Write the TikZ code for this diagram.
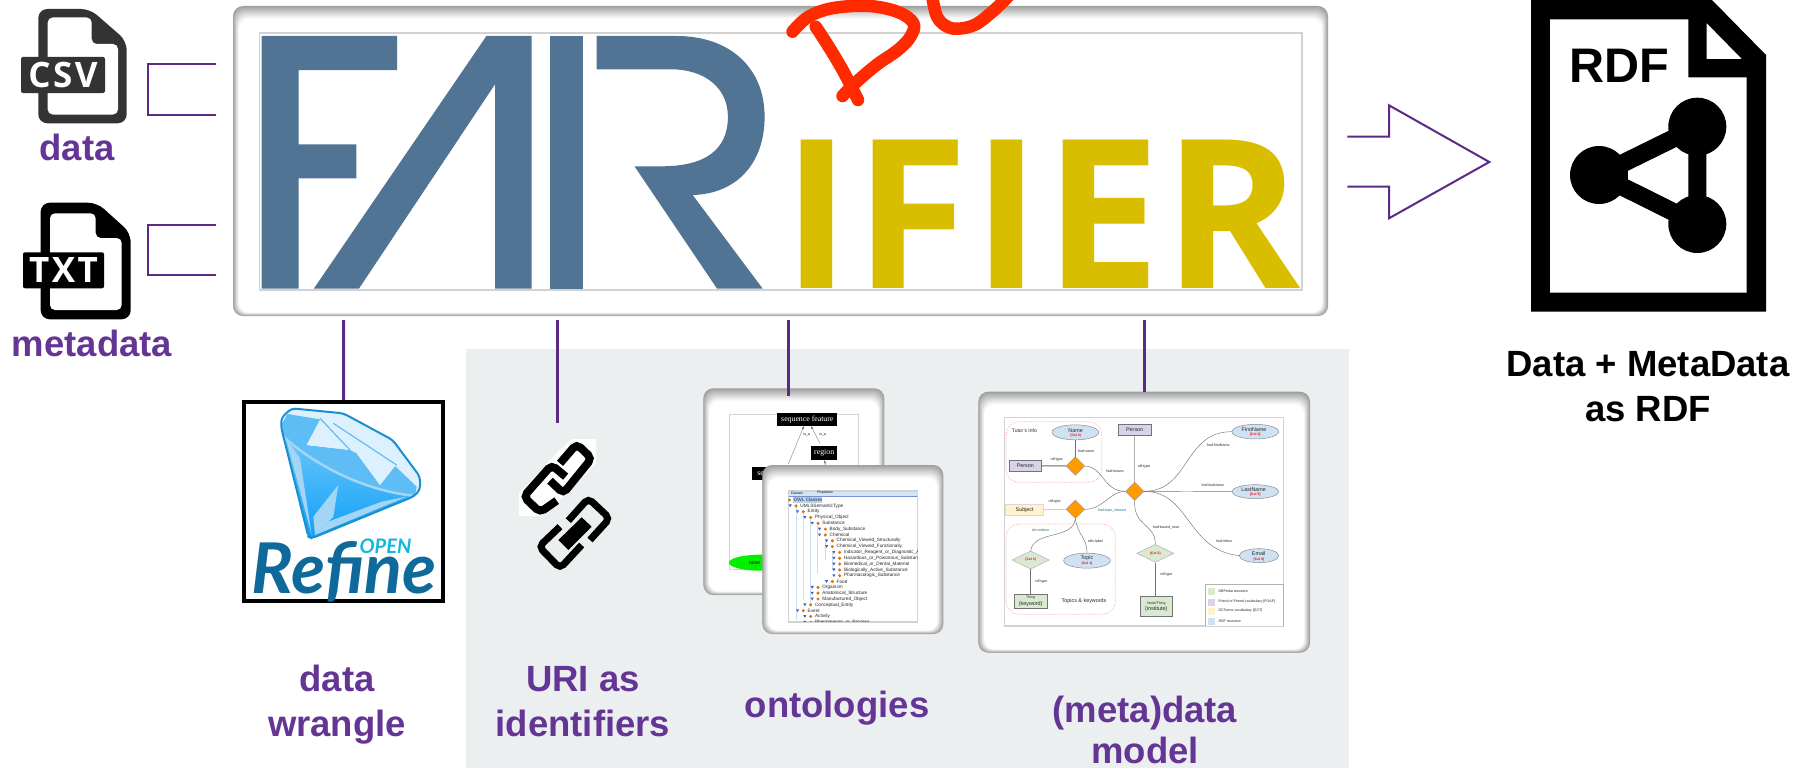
\documentclass[tikz,border=0pt]{standalone}
\usepackage{fontspec}
\usetikzlibrary{shapes.geometric,arrows.meta}
\setmainfont{Liberation Sans}
\newfontfamily\ossfont[LetterSpace=1.5]{Open Sans}
\newfontfamily\ossspaced[LetterSpace=7]{Open Sans}
\newfontfamily\latofont{Lato}
\newfontfamily\serifsmall{Liberation Serif}
\newcommand{\fsz}[1]{\fontsize{#1}{#1}\selectfont}
\definecolor{lblpurple}{HTML}{643594}
\definecolor{linepurple}{HTML}{5A2A86}
\definecolor{fairblue}{HTML}{517394}
\definecolor{fairyellow}{HTML}{D9BE00}
\definecolor{panelgrey}{HTML}{ECEFF0}
\definecolor{csvgrey}{HTML}{333333}
\definecolor{scrawlred}{HTML}{FF2A00}
\definecolor{framegrey}{HTML}{D2D2D2}
\definecolor{gemedge}{HTML}{1A8FD0}
\definecolor{gemtop}{HTML}{5FBDF6}
\definecolor{gemlow}{HTML}{0FA0F8}
\definecolor{gemlowb}{HTML}{6CC6F8}
\definecolor{gemlight}{HTML}{DCF1FD}
\definecolor{gempale}{HTML}{A3D6F4}
\definecolor{refineblue}{HTML}{0F6A9B}
\definecolor{opencyan}{HTML}{10B8DE}
\definecolor{erorange}{HTML}{FF9900}
\definecolor{ergreen}{HTML}{D9EAD3}
\definecolor{erpurple}{HTML}{D9D2E9}
\definecolor{eryellow}{HTML}{FFF2CC}
\definecolor{erblue}{HTML}{CFE2F3}
\definecolor{erpink}{HTML}{F6A8B0}
\definecolor{erteal}{HTML}{1F6F80}
\definecolor{treeblue}{HTML}{3C5FC8}
\definecolor{treeorange}{HTML}{D9770A}
\definecolor{treehl}{HTML}{B5D5EE}
\definecolor{treeline}{HTML}{C9DFF0}
\newcommand{\shadowcard}[4]{%
  \foreach \i in {0,...,16}{%
    \pgfmathsetmacro{\k}{38*(1-\i/16)^1.1}%
    \fill[black!\k!white,rounded corners=10pt]
      ({#1+\i*0.38},{#2+\i*0.8}) rectangle ({#3-\i*0.38},{#4-\i*0.22});
  }%
}
\tikzset{
  lbl/.style={font=\bfseries\fontsize{36.5}{45}\selectfont,text=lblpurple,align=center,anchor=base,inner sep=0},
  blacklbl/.style={font=\bfseries\fontsize{36.5}{45}\selectfont,text=black,align=center,anchor=base,inner sep=0},
  plink/.style={draw=linepurple,line width=3pt},
  pbrack/.style={draw=linepurple,line width=2.4pt},
  pframe/.style={draw=framegrey,line width=1.6pt},
  scrawl/.style={draw=scrawlred,line width=12.5pt,line cap=round,line join=round},
  chain/.style={draw=black,line width=8pt,rounded corners=5pt,line cap=butt},
  erl/.style={font=\fsz{3.6},text=black!85,inner sep=0},
  ert/.style={font=\fsz{3.6},text=erteal,inner sep=0},
  erm/.style={font=\fsz{5.4},text=black!85,inner sep=0},
  err/.style={font=\bfseries\fsz{3.4},text=red,inner sep=0},
  erell/.style={ellipse,draw=black!45,line width=.5pt,fill=erblue,minimum width=46.7pt,minimum height=15pt,inner sep=0},
  errect/.style={rectangle,draw=black!55,line width=.6pt,inner sep=0},
  erdia/.style={diamond,draw=black!40,line width=.4pt,fill=erorange,minimum width=18.6pt,minimum height=18.6pt,inner sep=0},
  ergd/.style={diamond,draw=black!35,line width=.4pt,fill=ergreen,minimum width=37pt,minimum height=18pt,inner sep=0},
  erc/.style={draw=black!55,line width=.45pt},
  erh/.style={draw=black!60,line width=1pt},
  erg/.style={draw=black!30,line width=.5pt},
  erdash/.style={draw=erpink,line width=.7pt,densely dotted,rounded corners=13pt},
  tree/.style={font=\fsz{4.7},text=black!85,inner sep=0,anchor=west},
  blackbox/.style={rectangle,fill=black,text=white,font=\serifsmall\fsz{7.8},inner sep=0},
  seqarrow/.style={draw=black!55,line width=.35pt,-{Latex[length=3pt,width=2.4pt]}},
}
\begin{document}
\begin{tikzpicture}[x=1pt,y=-1pt]
\useasboundingbox (0,0) rectangle (1798,768);
\fill[white] (0,0) rectangle (1798,768);
% grey panel
\fill[panelgrey] (466,349) rectangle (1349,768);

% main card
\shadowcard{233}{6}{1328}{316}
\node[name=main,rectangle,pframe,minimum width=1042.5pt,minimum height=257pt,inner sep=0] at (780.75,161.5) {};
\fill[fairblue] (261.7,36) -- (397.2,36) -- (397.2,70) -- (298.5,70) -- (298.5,144.3) -- (356.3,144.3) -- (356.3,178.3) -- (298.5,178.3) -- (298.5,288.7) -- (261.7,288.7) -- cycle;
\fill[fairblue] (486.4,36) -- (531.5,36) -- (531.5,288.7) -- (495.2,288.7) -- (495.2,84) -- (358.9,288.7) -- (313.8,288.7) -- cycle;
\fill[fairblue] (549.5,36) rectangle (582.8,288.7);
\fill[fairblue] (596.6,36) -- (676.6,36) .. controls (730,36) and (764.6,68) .. (764.6,116.7)
  .. controls (764.6,165) and (735,194) .. (692.7,195) -- (762.7,288.7) -- (717.1,288.7) -- (634.5,166.3) -- (661.3,166.3)
  .. controls (705,166.3) and (727.9,150) .. (727.9,116.7) .. controls (727.9,88) and (705,69.3) .. (670.8,69.3) -- (596.6,69.3) -- cycle;
\node[name=ifier,anchor=base west,inner sep=0,text=fairyellow,font=\ossfont\bfseries\fsz{208}] at (782.7,288.7) {IFIER};

% scrawl
\draw[scrawl] plot[smooth,tension=.6] coordinates {(792.5,31.7) (808.6,16.7) (833.6,8) (869,6) (897.9,12) (913.5,23.3) (910.4,36.7) (897.9,50) (876.4,65) (855,83.3) (842.5,96)};
\draw[scrawl] plot[smooth,tension=.6] coordinates {(815.7,26.7) (826.4,43) (840.7,66.7) (851.4,86.7) (858,100)};
\draw[scrawl] plot[smooth,tension=.6] coordinates {(931.8,-6) (937,16.7) (947.9,27) (960.4,28.5) (976.4,24) (994.3,10) (1008.6,-4)};

% CSV icon
\fill[csvgrey,rounded corners=9pt] (38.3,9) -- (90,9) -- (126.7,41) -- (126.7,123.3) -- (38.3,123.3) -- cycle;
\fill[white,rounded corners=5pt] (47.7,17.5) -- (91.7,17.5) -- (91.7,44) -- (118,44) -- (118,114.5) -- (47.7,114.5) -- cycle;
\node[name=csvbar,rectangle,fill=csvgrey,rounded corners=2pt,minimum width=84pt,minimum height=36pt,inner sep=0,text=white,font=\ossspaced\bfseries\fsz{35}] at (63,75) {CSV};
\node[lbl,name=ldata] at (77,160) {data};
% TXT icon
\fill[black,rounded corners=9pt] (40.7,202.7) -- (97,202.7) -- (130.7,233) -- (130.7,319.3) -- (40.7,319.3) -- cycle;
\fill[white,rounded corners=5pt] (50,213.3) -- (95.7,213.3) -- (95.7,238) -- (121.7,238) -- (121.7,310) -- (50,310) -- cycle;
\node[name=txtbar,rectangle,fill=black,rounded corners=2pt,minimum width=81pt,minimum height=36pt,inner sep=0,text=white,font=\ossspaced\bfseries\fsz{35}] at (63.5,270.3) {TXT};
\node[lbl,name=lmeta] at (92,356) {metadata};

% brackets
\coordinate (b1a) at (216,64); \coordinate (b1b) at (148,64); \coordinate (b1c) at (148,115); \coordinate (b1d) at (216,115);
\coordinate (b2a) at (216,225); \coordinate (b2b) at (148,225); \coordinate (b2c) at (148,275); \coordinate (b2d) at (216,275);
\draw[pbrack] (b1a) -- (b1b) -- (b1c) -- (b1d);
\draw[pbrack] (b2a) -- (b2b) -- (b2c) -- (b2d);

% hollow arrow
\draw[draw=linepurple,line width=2pt,line join=miter] (1347.3,136.7) -- (1389,136.7) -- (1389,105.3) -- (1489.3,162) -- (1389,218.3) -- (1389,186.7) -- (1347.3,186.7);

% RDF document
\fill[black] (1531,-2) -- (1710,-2) -- (1766,55) -- (1766,311.7) -- (1531,311.7) -- cycle;
\fill[white] (1550,19.3) -- (1688.3,19.3) -- (1688.3,77.3) -- (1746.7,77.3) -- (1746.7,292.7) -- (1550,292.7) -- cycle;
\fill[white] (1706.7,23.3) -- (1741.7,59) -- (1706.7,59) -- cycle;
\node[name=rdf,anchor=base,inner sep=0,font=\bfseries\fsz{48.5}] at (1619.3,82.7) {RDF};
\coordinate (nl) at (1599,175); \coordinate (nt) at (1697.3,126.7); \coordinate (nb) at (1697.3,224);
\draw[black,line width=18pt,line join=round] (nl) -- (nt) -- (nb) -- cycle;
\fill[black] (nl) circle (29) (nt) circle (29) (nb) circle (29);
\node[blacklbl,name=lrdf] at (1648,421.7) {Data + MetaData\\as RDF};

% Refine box
\node[name=refine,rectangle,draw=black,line width=4pt,fill=white,minimum width=199pt,minimum height=198.7pt,inner sep=0] at (343.65,501.35) {};
\begin{scope}[shift={(200,340)},x=.33333pt,y=-.33333pt]
  \fill[gemlight] (243,260) -- (275,205) -- (430,220) -- (578,300) -- (660,410) -- (660,450) -- (640,470) -- cycle;
  \path[top color=gemlowb,bottom color=gemlow] (250,290) .. controls (340,370) and (480,450) .. (645,468) -- (335,595) -- (325,590) -- cycle;
  \fill[gemtop] (246,250) -- (262,222) -- (360,238) -- (320,315) -- (450,330) -- (470,340) -- (540,435) -- (585,378) -- (650,440) -- (645,468) .. controls (480,450) and (340,370) .. (250,290) -- cycle;
  \fill[gemlight] (360,245) -- (320,315) -- (450,330) -- cycle;
  \fill[gemlight] (470,340) -- (585,378) -- (540,435) -- cycle;
  \fill[gempale] (415,435) -- (340,530) -- (345,585) -- (400,530) -- cycle;
  \fill[gempale] (258,295) -- (300,355) -- (335,585) -- cycle;
  \fill[gempale] (345,585) -- (385,545) -- (545,485) -- (620,470) -- cycle;
  \draw[gempale,line width=2.5pt] (250,290) .. controls (340,370) and (480,450) .. (645,468);
  \draw[gemtop,line width=1.2pt] (360,235) -- (450,330) (400,250) -- (590,375);
  \draw[gemedge,line width=2pt,line join=round,rounded corners=4pt] (275,205) -- (430,220) -- (578,300) -- (660,410) -- (660,450) -- (640,470) -- (335,595) -- (325,590) -- (243,260) -- (245,232) -- cycle;
\end{scope}
\node[name=refinetxt,anchor=base,inner sep=0,text=refineblue,font=\latofont\bfseries\itshape\fsz{70}] at (344,593) {Refine};
\node[name=opentxt,anchor=base,inner sep=0,text=opencyan,font=\latofont\bfseries\itshape\fsz{20}] at (385.5,553.3) {OPEN};
\node[lbl,name=lwrangle] at (337,736.7) {data\\wrangle};

% link icon
\begin{scope}[shift={(235,430)},x=.33333pt,y=-.33333pt]
  \fill[white] (960,75) -- (1010,27) -- (1083,27) -- (1083,100) -- (975,210) -- (920,258) -- (852,258) -- (852,190) -- cycle;
  \draw[chain] (975,100) -- (1025,42) -- (1070,85) -- (985,190) -- (945,152);
  \draw[chain] (965,212) -- (915,247) -- (866,200) -- (950,105) -- (992,140);
  \draw[chain,line width=7pt] (1000,272) -- (1060,205) -- (1124,265) -- (1065,330);
  \draw[chain,line width=7pt] (1040,345) -- (975,415) -- (912,350) -- (975,290);
  \fill[black] (970,330) -- (1040,262) -- (1070,290) -- (1000,360) -- cycle;
\end{scope}
\node[lbl,name=luri] at (583,736.7) {URI as\\identifiers};

% ontology cards
\shadowcard{703.3}{388.3}{884.3}{595}
\fill[white] (729.3,414.3) rectangle (858.3,569.3);
\draw[pframe] (729.3,414.3) rectangle (858.3,569.3);
\node[name=seqf,blackbox,minimum width=60pt,minimum height=12.6pt] at (807.3,419.5) {sequence feature};
\node[name=regn,blackbox,minimum width=26.3pt,minimum height=14.3pt] at (824.2,452.8) {region};
\node[name=seqv,blackbox,minimum width=40pt,minimum height=13.3pt,text depth=0pt] at (771.7,473.3) {sequence};
\coordinate (arr1) at (788.3,464); \coordinate (arr2) at (820,443.3); \coordinate (arr3) at (826,466);
\draw[seqarrow] (arr1) -- (seqf.south -| 804,0);
\draw[seqarrow] (arr2) -- (seqf.south -| 811,0);
\draw[seqarrow] (arr3) -- (regn.south);
\node[name=isa1,font=\fsz{3.5},inner sep=0] at (806.7,435) {is\_a};
\node[name=isa2,font=\fsz{3.5},inner sep=0] at (822.7,435) {is\_a};
\node[name=novel,ellipse,fill=green!94!black,minimum width=62pt,minimum height=16pt,inner sep=0] at (760,562.7) {};
\node[name=noveltxt,font=\fsz{5},inner sep=0,anchor=west] at (749,563) {nove};

\shadowcard{762.3}{465}{943.3}{634}
\draw[pframe] (788.3,491) rectangle (917.3,621.7);
\fill[treehl!60] (789,492) rectangle (916.6,495.5);
\draw[treeblue!70,line width=.6pt] (789,496) -- (916.6,496);
\node[name=tabs1,font=\fsz{3.4},inner sep=0] at (797,492.8) {Classes};
\node[name=tabs2,font=\fsz{3.4},inner sep=0] at (825,492.8) {Properties};
\begin{scope}
  \clip (788.3,491) rectangle (917.3,621.7);
  \fill[treehl] (792.5,497) rectangle (821.5,502.5);
  \foreach \vx/\va/\vb in {796/505/620,803/511/600,810/517/606,817/523/574,825/540/560,832/552/570}{
    \draw[treeline,line width=.5pt] (\vx,\va) -- (\vx,\vb);
  }
  \foreach \d/\t [count=\r from 0] in {
    268/OWL Classes,288/UMLSSemanticType,310/Entity,332/Physical\_Object,354/Substance,
    376/Body\_Substance,376/Chemical,397/Chemical\_Viewed\_Structurally,397/Chemical\_Viewed\_Functionally,
    419/Indicator\_Reagent\_or\_Diagnostic\_Aid,419/Hazardous\_or\_Poisonous\_Substance,419/Biomedical\_or\_Dental\_Material,
    419/Biologically\_Active\_Substance,419/Pharmacologic\_Substance,397/Food,354/Organism,354/Anatomical\_Structure,
    354/Manufactured\_Object,332/Conceptual\_Entity,310/Event,332/Activity,332/Phenomenon\_or\_Process}{
    \pgfmathsetmacro{\xd}{700+\d/3}
    \pgfmathsetmacro{\yd}{380+(360+\r*17.47)/3}
    \fill[treeorange] (\xd,\yd) circle (1.7);
    \node[tree,name=row\r] at ({\xd+4.2},\yd) {\t};
    \ifnum\r>0
      \fill[treeblue] ({\xd-7.4},{\yd-1.4}) -- ({\xd-4.2},{\yd-1.4}) -- ({\xd-5.8},{\yd+1.4}) -- cycle;
    \fi
  }
\end{scope}
\node[lbl,name=lonto] at (837,717) {ontologies};

% (meta)data model card
\shadowcard{978.3}{391.7}{1310}{652.7}
\begin{scope}[shift={(970,380)},x=.33333pt,y=-.33333pt]
  \draw[pframe] (103,113) rectangle (940,738);
  \draw[erdash] (108,125) rectangle (395,307);
  \draw[erdash] (108,432) rectangle (436,703);
  \node[name=tutor,font=\fsz{5},text=black!85,inner sep=0] at (163,152) {Tutor's Info};
  \node[name=topkw,font=\fsz{5.4},text=black!85,inner sep=0] at (342,662) {Topics \& keywords};
  % entities
  \node[name=ename,erell] at (316,157) {};
  \node[name=nametxt,erm] at (317,151) {Name};
  \node[name=namecol,err] at (317,167) {(Col 0)};
  \node[name=eper,errect,fill=erpurple,minimum width=32.7pt,minimum height=11pt,erm] at (166,257.5) {Person};
  \node[name=eper2,errect,fill=erpurple,minimum width=32.7pt,minimum height=11pt,erm] at (494,149.5) {Person};
  \node[name=efirst,erell,minimum height=14.6pt] at (856,155) {};
  \node[name=firsttxt,erm] at (852,149) {FirstName};
  \node[name=firstcol,err] at (856,165) {[Col 4]};
  \node[name=elast,erell,minimum height=14pt] at (856,335) {};
  \node[name=lasttxt,erm] at (851,329) {LastName};
  \node[name=lastcol,err] at (856,344) {[Col 5]};
  \node[name=email,erell,minimum width=39.4pt,minimum height=14pt] at (867,527) {};
  \node[name=emailtxt,erm] at (866,522) {Email};
  \node[name=emailcol,err] at (867,538) {[Col 6]};
  \node[name=etopic,erell] at (351,542) {};
  \node[name=topictxt,erm] at (351,534) {Topic};
  \node[name=topiccol,err] at (351,551) {(Col 1)};
  \node[name=esub,rectangle,draw=black!15,fill=eryellow,line width=.5pt,minimum width=38pt,minimum height=11.3pt,inner sep=0,erm] at (164,389) {Subject};
  \node[name=eth,errect,fill=ergreen,minimum width=32.7pt,minimum height=14.3pt] at (182,663.5) {};
  \node[name=thtxt,erl] at (182,653) {Thing};
  \node[name=thkw,erm] at (182,672) {(keyword)};
  \node[name=eno,errect,fill=ergreen,minimum width=32.3pt,minimum height=19.7pt] at (559.5,679.5) {};
  \node[name=notxt,erl] at (559,670) {Node/Thing};
  \node[name=nokw,erm] at (559,688) {(institute)};
  % diamonds
  \node[name=d1,erdia] at (316,258) {};
  \node[name=d2,erdia] at (494,334) {};
  \node[name=d3,erdia] at (316,388) {};
  \node[name=g1,ergd,text=red,font=\bfseries\fsz{3.4}] at (182,540) {(Col 3)};
  \node[name=g2,ergd,text=red,font=\bfseries\fsz{3.4}] at (556,520) {(Col 2)};
  % connectors
  \draw[erc] (ename.south) -- (d1.north);
  \draw[erh] (eper.east) -- (d1.west);
  \draw[erc] (d1.east) .. controls (400,260) and (400,334) .. (d2.west);
  \draw[erg] (d2.north) -- (eper2.south);
  \draw[erc] (d2.east) .. controls (660,334) and (640,155) .. (efirst.west);
  \draw[erc] (d2.east) -- (elast.west);
  \draw[erc] (d2.east) .. controls (660,334) and (650,510) .. (email.west);
  \draw[erc] (d2.west) .. controls (420,334) and (400,388) .. (d3.east);
  \draw[erg] (d3.west) -- (esub.east);
  \draw[erc] (d3.south) .. controls (310,480) and (190,450) .. (g1.north);
  \draw[erc] (d3.south) .. controls (325,470) and (350,470) .. (etopic.north);
  \draw[erc] (g1.south) -- (eth.north);
  \draw[erc] (d2.south) .. controls (490,440) and (556,430) .. (g2.north);
  \draw[erc] (g2.south) -- (eno.north -| g2.south);
  % edge labels
  \node[name=e1,erl] at (348,213) {foaf:name};
  \node[name=e2,erl] at (260,239) {rdf:type};
  \node[name=e3,erl] at (435,273) {foaf:knows};
  \node[name=e4,erl] at (522,259) {rdf:type};
  \node[name=e5,erl] at (745,197) {foaf:firstName};
  \node[name=e6,erl] at (728,317) {foaf:lastName};
  \node[name=e7,erl] at (763,485) {foaf:mbox};
  \node[name=e8,ert] at (426,391) {foaf:topic\_interest};
  \node[name=e9,erl] at (254,364) {rdf:type};
  \node[name=e10,ert] at (212,451) {dct:relation};
  \node[name=e11,erl] at (376,484) {rdfs:label};
  \node[name=e12,erl] at (214,606) {rdf:type};
  \node[name=e13,erl] at (588,442) {foaf:based\_near};
  \node[name=e14,erl] at (589,583) {rdf:type};
  % legend
  \draw[draw=black!30,line width=.6pt,fill=white] (707,738) -- (707,613) -- (940,613) -- (940,738);
  \fill[ergreen] (713,624) rectangle (735,645);
  \fill[erpurple] (713,657) rectangle (735,677);
  \fill[eryellow] (713,685) rectangle (735,705);
  \fill[erblue] (713,714) rectangle (735,736);
  \node[name=lg1,erl,anchor=west] at (745,634) {DBPedia resource};
  \node[name=lg2,erl,anchor=west] at (745,665) {Friend of Friend vocabulary [FOAF]};
  \node[name=lg3,erl,anchor=west] at (745,693) {DCTerms vocabulary [DCT]};
  \node[name=lg4,erl,anchor=west] at (745,724) {RDF resource};
\end{scope}
\node[lbl,name=lmodel] at (1145,763) {(meta)data\\[-4pt]model};

% connectors from the main card
\coordinate (t1) at (343.6,320); \coordinate (t2) at (557,320); \coordinate (t2e) at (557,423);
\coordinate (t3) at (788,320); \coordinate (t3e) at (788,396); \coordinate (t4) at (1144,320); \coordinate (t4e) at (1144,392);
\draw[plink] (t1) -- (refine.north);
\draw[plink] (t2) -- (t2e);
\draw[plink] (t3) -- (t3e);
\draw[plink] (t4) -- (t4e);
\end{tikzpicture}
\end{document}
